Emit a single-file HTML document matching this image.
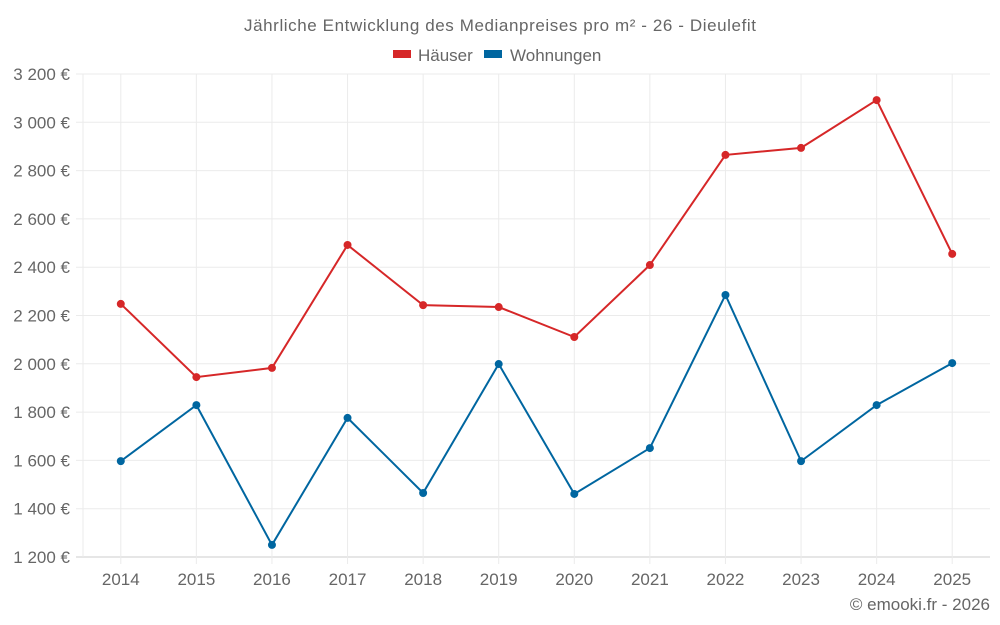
<!DOCTYPE html>
<html><head><meta charset="utf-8"><style>
body{margin:0;background:#fff;font-family:"Liberation Sans",sans-serif}
</style></head><body>
<svg id="c" width="1000" height="625" style="display:block">
<text x="500" y="31" text-anchor="middle" font-size="17" fill="#666" textLength="512">Jährliche Entwicklung des Medianpreises pro m² - 26 - Dieulefit</text>
<g><rect x="393" y="50" width="18" height="8" fill="#d62728"/><text x="418" y="61" font-size="17" fill="#666">Häuser</text></g>
<g><rect x="484" y="50" width="18" height="8" fill="#0066a0"/><text x="510" y="61" font-size="17" fill="#666">Wohnungen</text></g>
<g id="grid"></g><g id="series"></g>
<text x="990" y="610" text-anchor="end" font-size="17" fill="#666">© emooki.fr - 2026</text>
</svg>
<script>
const years=["2014","2015","2016","2017","2018","2019","2020","2021","2022","2023","2024","2025"];
const houses=[2248,1945,1983,2492,2243,2235,2111,2409,2865,2894,3092,2455];
const flats=[1597,1829,1250,1776,1465,1999,1461,1651,2285,1597,1829,2003];
const yTicks=[1200,1400,1600,1800,2000,2200,2400,2600,2800,3000,3200];
const NS="http://www.w3.org/2000/svg";
const L=83,R=990,T=74,B=557;
const step=(R-L)/12;
const x=i=>L+step*(i+0.5);
const y=v=>B-(v-1200)/2000*(B-T);
function mk(t,a,p){const e=document.createElementNS(NS,t);for(const k in a)e.setAttribute(k,a[k]);p.appendChild(e);return e;}
const g=document.getElementById('grid');
yTicks.forEach(v=>{
 const l=mk('line',{x1:76,x2:R,y1:y(v),y2:y(v),stroke:v===1200?'#ccc':'#ebebeb'},g);
 
 
 const t=mk('text',{x:70,y:y(v)+6,'text-anchor':'end','font-size':17,fill:'#666'},g);
 t.textContent=String(v).replace(/(\d)(\d{3})$/,'$1 $2')+' €';
 
 
});
mk('line',{x1:L,x2:L,y1:T,y2:B,stroke:'#ebebeb'},g);
years.forEach((yr,i)=>{
 const l=mk('line',{x1:x(i),x2:x(i),y1:T,y2:B+7,stroke:'#ebebeb'},g);
 
 
 const t=mk('text',{x:x(i),y:585,'text-anchor':'middle','font-size':17,fill:'#666'},g);
 t.textContent=yr;
 
 
});
const s=document.getElementById('series');
[[houses,'#d62728','haeuser'],[flats,'#0066a0','wohnungen']].forEach(([d,c,n])=>{
 const p=mk('polyline',{points:d.map((v,i)=>x(i)+','+y(v)).join(' '),fill:'none',stroke:c,'stroke-width':2},s);
 
 
 d.forEach((v,i)=>{
  const e=mk('circle',{cx:x(i),cy:y(v),r:4,fill:c},s);
  
  
 });
});
</script>
</body></html>
